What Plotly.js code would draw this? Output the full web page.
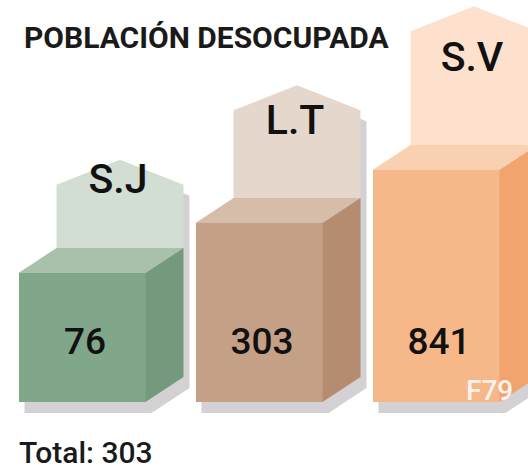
<!DOCTYPE html>
<html>
<head>
<meta charset="utf-8">
<script src="https://cdn.plot.ly/plotly-3.0.1.min.js"></script>
<style>html,body{margin:0;padding:0;background:#fff;}#chart{width:528px;height:472px;}</style>
</head>
<body>
<div id="chart"></div>
<script>
// ---- data ----
const categories = ['S.J', 'L.T', 'S.V'];
const values = [76, 303, 841];
const boxHeights = [129, 179, 232];          // drawn height of each box (display scale)
const titleText = 'POBLACIÓN DESOCUPADA';
const totalText = 'Total: 303';
const sourceTag = 'F79';

// ---- styling ----
const frontColors = ['#80a78a', '#c4a087', '#f6b889'];
const topColors   = ['#a9c0ab', '#d6bdaa', '#f9d1b1'];
const sideColors  = ['#74997d', '#b68c71', '#f1a46e'];
const labelColors = ['#d2ddd3', '#e5d7cc', '#fde1cc'];
const shadowColor = '#d3d1d3';
const mediumFont = 'Roboto, Liberation Sans, Arial, sans-serif';

// geometry (axis units = pixels)
const step = 177, firstCenter = 82, barWidth = 127;
const dx = 38, dy = 25, roof = 25, labelRatio = 0.49;
const shX = 6, shY = 11;

const centers = categories.map((c, i) => firstCenter + i * step);

const traces = [];
const shapes = [];

function pathOf(pts) {
  return 'M' + pts.map(p => p[0] + ',' + p[1]).join('L') + 'Z';
}

categories.forEach((cat, i) => {
  const H = boxHeights[i];
  const xl = centers[i] - barWidth / 2, xr = centers[i] + barWidth / 2;
  const backTop = H + dy;
  const L = labelRatio * H;
  const shoulder = backTop + L;
  const lxl = xl + dx, lxr = xr + dx, lxc = (lxl + lxr) / 2;
  const house = [[lxl, backTop], [lxl, shoulder], [lxc, shoulder + roof], [lxr, shoulder], [lxr, backTop]];
  const box = [[xl, 0], [xl, H], [xl + dx, backTop], [xr + dx, backTop], [xr + dx, dy], [xr, 0]];
  // shadows
  shapes.push({type: 'path', xref: 'x', yref: 'y', layer: 'below', line: {width: 0}, fillcolor: shadowColor,
    path: pathOf(house.map(p => [p[0] + shX, p[1] - shY]))});
  shapes.push({type: 'path', xref: 'x', yref: 'y', layer: 'below', line: {width: 0}, fillcolor: shadowColor,
    path: pathOf(box.map(p => [p[0] + shX, p[1] - shY]))});
  // label "house"
  shapes.push({type: 'path', xref: 'x', yref: 'y', layer: 'below', line: {width: 0}, fillcolor: labelColors[i],
    path: pathOf(house)});
});

// front faces as bars
traces.push({
  type: 'bar', x: centers, y: boxHeights, width: barWidth,
  marker: {color: frontColors, line: {width: 0}},
  hoverinfo: 'skip', showlegend: false
});

// top and side faces
categories.forEach((cat, i) => {
  const H = boxHeights[i];
  const xl = centers[i] - barWidth / 2, xr = centers[i] + barWidth / 2;
  const top = [[xl, H], [xl + dx, H + dy], [xr + dx, H + dy], [xr, H], [xl, H]];
  const side = [[xr, 0], [xr, H], [xr + dx, H + dy], [xr + dx, dy], [xr, 0]];
  [[top, topColors[i]], [side, sideColors[i]]].forEach(([pts, col]) => {
    traces.push({
      type: 'scatter', mode: 'lines', x: pts.map(p => p[0]), y: pts.map(p => p[1]),
      fill: 'toself', fillcolor: col, line: {width: 0, color: col},
      hoverinfo: 'skip', showlegend: false
    });
  });
});

// category labels in the houses
traces.push({
  type: 'scatter', mode: 'text',
  x: centers.map(c => c + dx - 2),
  y: boxHeights.map(H => H + dy + 0.37 * labelRatio * H + 42),
  text: categories, textposition: 'middle center',
  textfont: {family: mediumFont, size: 41, color: '#111', weight: 500},
  cliponaxis: false, hoverinfo: 'skip', showlegend: false
});

// values on the front faces
traces.push({
  type: 'scatter', mode: 'text',
  x: centers.map(c => c + 3),
  y: values.map(() => 57),
  text: values.map(String), textposition: 'middle center',
  textfont: {family: mediumFont, size: 37, color: '#111', weight: 500},
  hoverinfo: 'skip', showlegend: false
});

const layout = {
  width: 528, height: 472,
  margin: {l: 0, r: 0, t: 0, b: 0},
  paper_bgcolor: '#ffffff', plot_bgcolor: '#ffffff',
  showlegend: false,
  bargap: 0,
  xaxis: {range: [0, 528], visible: false, fixedrange: true},
  yaxis: {range: [-70, 402], visible: false, fixedrange: true},
  title: {
    text: titleText, x: 24 / 528, xanchor: 'left', y: 1 - 37 / 472, yanchor: 'middle',
    font: {family: mediumFont, size: 30, color: '#1a1a1a', weight: 700}
  },
  shapes: shapes,
  annotations: [
    {text: totalText, xref: 'paper', yref: 'paper', x: 17 / 528, y: 0,
     xanchor: 'left', yanchor: 'bottom', showarrow: false,
     font: {family: mediumFont, size: 30, color: '#1a1a1a', weight: 500}},
    {text: sourceTag, xref: 'x', yref: 'y', x: 515, y: 12,
     xanchor: 'right', yanchor: 'middle', showarrow: false,
     font: {family: mediumFont, size: 28, color: '#fdf3ec', weight: 500}}
  ]
};

Plotly.newPlot('chart', traces, layout, {displayModeBar: false, staticPlot: true});
</script>
</body>
</html>
